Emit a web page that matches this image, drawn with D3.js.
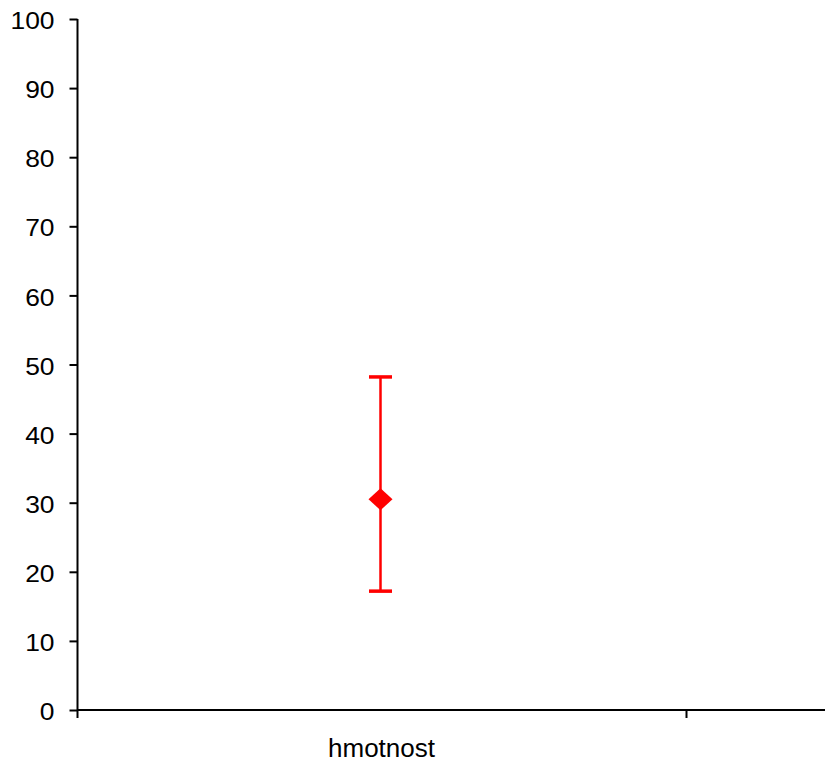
<!DOCTYPE html>
<html lang="en">
<head>
<meta charset="UTF-8">
<title>hmotnost</title>
<script src="https://d3js.org/d3.v7.min.js"></script>
<style>
  body { margin: 0; background: #fff; }
  svg { display: block; font-family: "Liberation Sans", Arial, sans-serif; }
</style>
</head>
<body>
<svg width="825" height="762"></svg>
<script>
    // data
    var categories = ["hmotnost", ""];
    var means = [30.5];
    var lowers = [17.2];
    var uppers = [48.2];
    var yTicks = [0, 10, 20, 30, 40, 50, 60, 70, 80, 90, 100];

    var svg = d3.select("svg"),
        plotLeft = 77.5, plotTop = 19, plotBottom = 710, band = 609,
        stretch = 1.1;

    var y = d3.scaleLinear().domain([0, 100]).range([plotBottom, plotTop]);
    var x = d3.scaleBand().domain(categories).range([plotLeft, plotLeft + band * categories.length]);

    // y axis
    var yAxis = svg.append("g")
        .attr("transform", "translate(" + plotLeft + ",0)")
        .call(d3.axisLeft(y).tickValues(yTicks).tickSize(8));
    yAxis.select(".domain").remove();
    yAxis.selectAll("line").attr("stroke", "#000").attr("stroke-width", 2);
    yAxis.selectAll("text")
        .attr("x", -23 / stretch)
        .attr("dy", "0.4em")
        .attr("transform", "scale(" + stretch + ",1)")
        .attr("font-size", 24).attr("fill", "#000")
        .attr("font-family", "Liberation Sans, Arial, sans-serif");
    svg.append("line")
        .attr("x1", plotLeft).attr("x2", plotLeft)
        .attr("y1", plotTop).attr("y2", plotBottom + 8)
        .attr("stroke", "#000").attr("stroke-width", 2);

    // x axis
    svg.append("line")
        .attr("x1", plotLeft).attr("x2", 825)
        .attr("y1", plotBottom).attr("y2", plotBottom)
        .attr("stroke", "#000").attr("stroke-width", 2);
    svg.selectAll(".xtick")
        .data(categories.slice(1))
        .enter().append("line")
        .attr("class", "xtick")
        .attr("x1", function (d) { return x(d); })
        .attr("x2", function (d) { return x(d); })
        .attr("y1", plotBottom).attr("y2", plotBottom + 8)
        .attr("stroke", "#000").attr("stroke-width", 2);
    svg.selectAll(".xlabel")
        .data(categories.filter(function (d) { return d; }))
        .enter().append("text")
        .attr("class", "xlabel")
        .attr("x", function (d) { return x(d) + x.bandwidth() / 2 - 0.5; })
        .attr("y", 757)
        .attr("text-anchor", "middle")
        .attr("font-size", 26)
        .text(function (d) { return d; });

    // error bars + points
    var g = svg.append("g");
    means.forEach(function (m, i) {
        var cx = x(categories[i]) + x.bandwidth() / 2 - 1.5;
        g.append("line")
            .attr("x1", cx).attr("x2", cx)
            .attr("y1", y(uppers[i])).attr("y2", y(lowers[i]))
            .attr("stroke", "#ff0000").attr("stroke-width", 2.5);
        [uppers[i], lowers[i]].forEach(function (v) {
            g.append("line")
                .attr("x1", cx - 11.5).attr("x2", cx + 11.5)
                .attr("y1", y(v)).attr("y2", y(v))
                .attr("stroke", "#ff0000").attr("stroke-width", 3.5);
        });
        g.append("path")
            .attr("transform", "translate(" + cx + "," + y(m) + ")")
            .attr("d", "M0,-11L12,0L0,11L-12,0Z")
            .attr("fill", "#ff0000");
    });
</script>
</body>
</html>
